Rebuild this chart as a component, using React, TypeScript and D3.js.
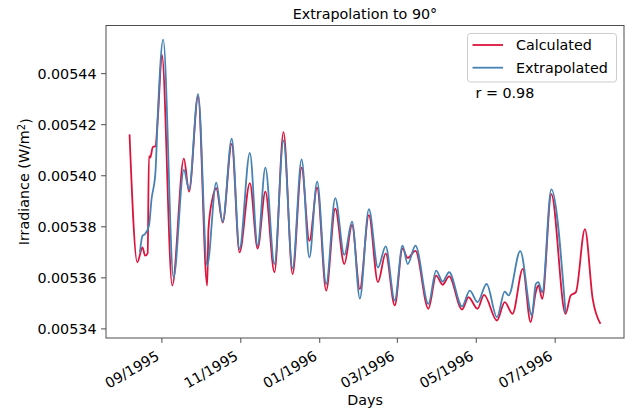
import React, { useEffect, useRef } from "react";
import * as d3 from "d3";

// Calculated series (crimson)
const calcDates = [
  "1995-08-07", "1995-08-13", "1995-08-17", "1995-08-19", "1995-08-21", "1995-08-22",
  "1995-08-23", "1995-08-25", "1995-08-27", "1995-08-29", "1995-09-01", "1995-09-09",
  "1995-09-18", "1995-09-22", "1995-09-29", "1995-10-06", "1995-10-07", "1995-10-10",
  "1995-10-13", "1995-10-18", "1995-10-25", "1995-10-31", "1995-11-08", "1995-11-14",
  "1995-11-20", "1995-11-27", "1995-12-04", "1995-12-11", "1995-12-18", "1995-12-24",
  "1995-12-30", "1996-01-06", "1996-01-13", "1996-01-20", "1996-01-26", "1996-02-01",
  "1996-02-08", "1996-02-15", "1996-02-21", "1996-02-28", "1996-03-05", "1996-03-09",
  "1996-03-15", "1996-03-25", "1996-03-31", "1996-04-05", "1996-04-10", "1996-04-20",
  "1996-04-25", "1996-05-02", "1996-05-07", "1996-05-17", "1996-05-23", "1996-05-29",
  "1996-06-06", "1996-06-12", "1996-06-16", "1996-06-18", "1996-06-21", "1996-06-28",
  "1996-07-09", "1996-07-13", "1996-07-17", "1996-07-24", "1996-07-30", "1996-08-05",
];
const calcValues = [
  0.0054162, 0.0053661, 0.0053719, 0.0053687, 0.0053696, 0.0054077,
  0.0054071, 0.0054113, 0.0054116, 0.0054237, 0.0054474, 0.005357,
  0.0054067, 0.0053938, 0.0054311, 0.005357, 0.0053791, 0.0053908,
  0.0053951, 0.0053817, 0.0054125, 0.00537, 0.0053971, 0.0053715,
  0.0053938, 0.0053622, 0.0054171, 0.0053615, 0.0054032, 0.0053745,
  0.0053953, 0.005355, 0.0053871, 0.0053654, 0.0053807, 0.0053556,
  0.0053846, 0.0053583, 0.0053696, 0.0053492, 0.0053715, 0.0053678,
  0.0053706, 0.0053479, 0.0053609, 0.0053573, 0.0053606, 0.0053476,
  0.0053524, 0.0053479, 0.0053533, 0.0053433, 0.0053505, 0.0053459,
  0.0053635, 0.0053427, 0.0053544, 0.005357, 0.0053518, 0.0053928,
  0.0053459, 0.0053531, 0.0053544, 0.0053791, 0.0053518, 0.005342,
];

// Extrapolated series (steelblue)
const extraDates = [
  "1995-08-15", "1995-08-17", "1995-08-19", "1995-08-22", "1995-08-24", "1995-08-27",
  "1995-08-29", "1995-09-02", "1995-09-10", "1995-09-18", "1995-09-22", "1995-09-29",
  "1995-10-06", "1995-10-13", "1995-10-18", "1995-10-25", "1995-10-31", "1995-11-08",
  "1995-11-14", "1995-11-20", "1995-11-27", "1995-12-04", "1995-12-11", "1995-12-18",
  "1995-12-24", "1995-12-30", "1996-01-06", "1996-01-13", "1996-01-20", "1996-01-26",
  "1996-02-01", "1996-02-08", "1996-02-15", "1996-02-21", "1996-02-28", "1996-03-05",
  "1996-03-09", "1996-03-15", "1996-03-25", "1996-03-31", "1996-04-05", "1996-04-10",
  "1996-04-20", "1996-04-26", "1996-05-02", "1996-05-09", "1996-05-17", "1996-05-23",
  "1996-05-26", "1996-06-04", "1996-06-13", "1996-06-16", "1996-06-18", "1996-06-21",
  "1996-06-28", "1996-07-09",
];
const extraValues = [
  0.00537, 0.0053765, 0.0053772, 0.0053804, 0.0053908, 0.0054012,
  0.0054259, 0.0054533, 0.0053602, 0.0054023, 0.0053947, 0.005432,
  0.0053648, 0.0053973, 0.005382, 0.0054145, 0.0053713, 0.005409,
  0.0053726, 0.0054032, 0.0053654, 0.0054138, 0.0053637, 0.0054064,
  0.005368, 0.0053977, 0.0053576, 0.0053912, 0.005369, 0.005382,
  0.0053519, 0.0053869, 0.0053641, 0.0053723, 0.0053511, 0.0053726,
  0.0053654, 0.0053726, 0.0053498, 0.0053628, 0.0053585, 0.0053622,
  0.0053488, 0.005355, 0.0053505, 0.0053576, 0.0053446, 0.0053546,
  0.0053531, 0.0053705, 0.0053453, 0.0053576, 0.0053583, 0.0053544,
  0.0053947, 0.0053463,
];

const yTicks = [0.00534, 0.00536, 0.00538, 0.0054, 0.00542, 0.00544];
const seriesNames = ["Calculated", "Extrapolated"];
const seriesColors = ["#dc143c", "#4682b4"];

export default function App() {
  const ref = useRef<SVGSVGElement>(null);

  useEffect(() => {
    document.body.style.margin = "0";
    const svg = d3.select(ref.current);
    svg.selectAll("*").remove();

    const width = 633;
    const height = 412;
    const margin = { top: 25.5, right: 9, bottom: 74, left: 106 };
    const font = "DejaVu Sans, sans-serif";
    const fs = "14.3px";
    const axisColor = "#4d4d4d";

    const parse = d3.timeParse("%Y-%m-%d");
    const calc = calcDates.map((d, i) => ({ date: parse(d) as Date, value: calcValues[i] }));
    const extra = extraDates.map((d, i) => ({ date: parse(d) as Date, value: extraValues[i] }));
    const all = calc.concat(extra);

    const xExt = d3.extent(all, d => d.date) as [Date, Date];
    const yExt = d3.extent(all, d => d.value) as [number, number];
    const xPad = (+xExt[1] - +xExt[0]) * 0.05;
    const yPad = (yExt[1] - yExt[0]) * 0.05;

    const x = d3.scaleTime()
      .domain([new Date(+xExt[0] - xPad), new Date(+xExt[1] + xPad)])
      .range([margin.left, width - margin.right]);

    const y = d3.scaleLinear()
      .domain([yExt[0] - yPad, yExt[1] + yPad])
      .range([height - margin.bottom, margin.top]);

    const plotBottom = height - margin.bottom;

    // Lines
    const line = d3.line<{ date: Date; value: number }>()
      .x(d => x(d.date))
      .y(d => y(d.value))
      .curve(d3.curveMonotoneX);

    [calc, extra].forEach((data, i) => {
      svg.append("path")
        .datum(data)
        .attr("fill", "none")
        .attr("stroke", seriesColors[i])
        .attr("stroke-width", 1.8)
        .attr("stroke-linejoin", "round")
        .attr("d", line);
    });

    // Frame
    svg.append("rect")
      .attr("x", margin.left)
      .attr("y", margin.top)
      .attr("width", width - margin.left - margin.right)
      .attr("height", plotBottom - margin.top)
      .attr("fill", "none")
      .attr("stroke", axisColor)
      .attr("stroke-width", 1);

    // Y ticks
    const yg = svg.append("g");
    yTicks.forEach(t => {
      yg.append("line")
        .attr("x1", margin.left - 4.9).attr("x2", margin.left)
        .attr("y1", y(t)).attr("y2", y(t))
        .attr("stroke", axisColor);
      yg.append("text")
        .attr("x", margin.left - 9.5)
        .attr("y", y(t))
        .attr("dy", "0.36em")
        .attr("text-anchor", "end")
        .style("font-family", font)
        .style("font-size", fs)
        .text(d3.format(".5f")(t));
    });

    // X ticks
    const xTicks = x.ticks(d3.timeMonth.every(2) as d3.TimeInterval);
    const xg = svg.append("g");
    xTicks.forEach(t => {
      const px = x(t);
      xg.append("line")
        .attr("x1", px).attr("x2", px)
        .attr("y1", plotBottom).attr("y2", plotBottom + 4.9)
        .attr("stroke", axisColor);
      xg.append("text")
        .attr("transform", `translate(${px - 1.6},${plotBottom + 21}) rotate(-30)`)
        .attr("text-anchor", "end")
        .style("font-family", font)
        .style("font-size", fs)
        .text(d3.timeFormat("%m/%Y")(t));
    });

    // Title
    svg.append("text")
      .attr("x", (margin.left + width - margin.right) / 2)
      .attr("y", 19)
      .attr("text-anchor", "middle")
      .style("font-family", font)
      .style("font-size", fs)
      .text("Extrapolation to 90°");

    // Axis labels
    svg.append("text")
      .attr("x", (margin.left + width - margin.right) / 2)
      .attr("y", 405)
      .attr("text-anchor", "middle")
      .style("font-family", font)
      .style("font-size", fs)
      .text("Days");

    const yl = svg.append("text")
      .attr("transform", `translate(29,${(margin.top + plotBottom) / 2}) rotate(-90)`)
      .attr("text-anchor", "middle")
      .style("font-family", font)
      .style("font-size", fs);
    yl.append("tspan").text("Irradiance (W/m");
    yl.append("tspan").attr("dy", "-0.45em").style("font-size", "10px").text("2");
    yl.append("tspan").attr("dy", "0.45em").text(")");

    // Legend
    const lg = svg.append("g");
    lg.append("rect")
      .attr("x", 467.5).attr("y", 33.5)
      .attr("width", 149).attr("height", 48.5)
      .attr("rx", 3)
      .attr("fill", "white")
      .attr("fill-opacity", 0.8)
      .attr("stroke", "#cccccc");
    seriesNames.forEach((name, i) => {
      const ly = 45 + i * 22.7;
      lg.append("line")
        .attr("x1", 472.5).attr("x2", 503)
        .attr("y1", ly).attr("y2", ly)
        .attr("stroke", seriesColors[i])
        .attr("stroke-width", 1.8);
      lg.append("text")
        .attr("x", 516)
        .attr("y", ly + 5)
        .style("font-family", font)
        .style("font-size", fs)
        .text(name);
    });

    svg.append("text")
      .attr("x", 475.5)
      .attr("y", 98.3)
      .style("font-family", font)
      .style("font-size", fs)
      .text("r = 0.98");
  }, []);

  return (
    <svg
      ref={ref}
      width={633}
      height={412}
      style={{ display: "block", background: "white" }}
    ></svg>
  );
}
